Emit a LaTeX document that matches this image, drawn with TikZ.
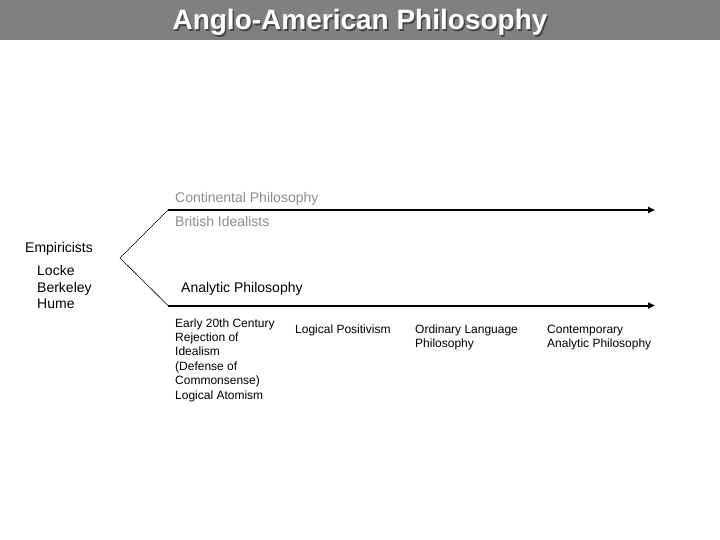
\documentclass[tikz,border=0pt]{standalone}
\usepackage{fontspec}
\setmainfont{Liberation Sans}
\usetikzlibrary{arrows.meta}
\definecolor{barcol}{RGB}{128,128,128}
\definecolor{lightcol}{RGB}{140,140,140}
\definecolor{shadowcol}{RGB}{70,70,70}
\newcommand{\shadowtext}[1]{\rlap{\hspace{1.5pt}\raisebox{-1.5pt}{\color{shadowcol}#1}}#1}
\begin{document}
\begin{tikzpicture}[x=1pt,y=-1pt,
  lbl/.style={anchor=base west,inner sep=0pt,font=\fontsize{14}{17}\selectfont},
  dim/.style={lbl,text=lightcol},
  small/.style={anchor=north west,inner sep=0pt,align=left,font=\fontsize{12}{14.4}\selectfont},
  arr/.style={line width=2pt,-{Triangle[length=7pt,width=6pt]}},
  branch/.style={line width=0.6pt}]
\useasboundingbox (0,0) rectangle (720,540);
\fill[barcol] (0,0) rectangle (720,40);
\node[anchor=base,inner sep=0pt,text=white,font=\bfseries\fontsize{28}{30}\selectfont] (title) at (360,30) {\shadowtext{Anglo-American Philosophy}};

\coordinate (apex) at (120,258);
\coordinate (topstart) at (168,210);
\coordinate (botstart) at (168,305.5);
\coordinate (topend) at (655,210);
\coordinate (botend) at (655,305.5);
\draw[branch] (topstart) -- (apex) -- (botstart);
\draw[arr] (topstart) -- (topend);
\draw[arr] (botstart) -- (botend);

\node[dim] (cont) at (175,203) {Continental Philosophy};
\node[dim] (brit) at (175,226) {British Idealists};
\node[lbl] (emp) at (25,252) {Empiricists};
\node[lbl] (locke) at (37,275) {Locke};
\node[lbl] (berk) at (37,292) {Berkeley};
\node[lbl] (hume) at (37,308.5) {Hume};
\node[lbl] (anal) at (181,292) {Analytic Philosophy};

\node[small] (early) at (175,318.3) {Early 20th Century\\Rejection of\\Idealism\\(Defense of\\Commonsense)\\Logical Atomism};
\node[small,anchor=base west] (logpos) at (295,333) {Logical Positivism};
\node[small] (ord) at (415,324.3) {Ordinary Language\\Philosophy};
\node[small] (contemp) at (547,324.6) {Contemporary\\Analytic Philosophy};
\end{tikzpicture}
\end{document}
